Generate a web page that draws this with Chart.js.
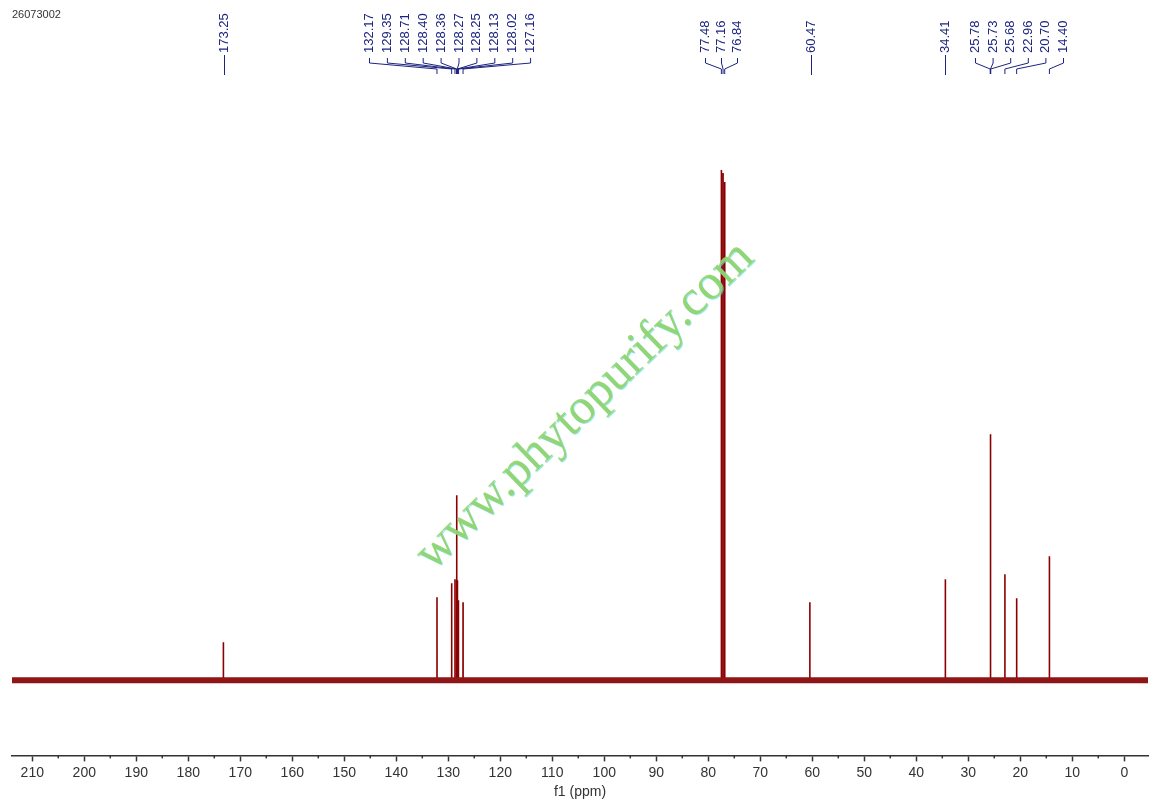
<!DOCTYPE html>
<html>
<head>
<meta charset="utf-8">
<script src="https://cdn.jsdelivr.net/npm/chart.js@4.4.0/dist/chart.umd.min.js"></script>
<style>
  html, body { margin: 0; padding: 0; background: #fff; }
</style>
</head>
<body>
<canvas id="nmr" width="1160" height="805"></canvas>
<script>
// spectrum data (13C, ppm and relative intensity)
const sampleId = '26073002';
const peakPpm = [173.25, 132.17, 129.35, 128.71, 128.40, 128.36, 128.27, 128.25, 128.13, 128.02, 127.16,
                 77.48, 77.16, 76.84, 60.47, 34.41, 25.78, 25.73, 25.68, 22.96, 20.70, 14.40];
const peakHeight = [38, 83, 97, 101, 90, 185, 100, 95, 80, 70, 78,
                    510, 507, 498, 78, 101, 246, 246, 240, 106, 82, 124];
const labelGroups = [
    [173.25],
    [132.17, 129.35, 128.71, 128.40, 128.36, 128.27, 128.25, 128.13, 128.02, 127.16],
    [77.48, 77.16, 76.84],
    [60.47],
    [34.41],
    [25.78, 25.73, 25.68, 22.96, 20.70, 14.40]
];
const xTicks = [210, 200, 190, 180, 170, 160, 150, 140, 130, 120, 110, 100, 90, 80, 70, 60, 50, 40, 30, 20, 10, 0];
const xMin = -4.56, xMax = 213.9;

// label column layout: [first label x, step]
const labelLayout = [[224, 0], [369, 17.9], [705, 16], [811, 0], [945, 0], [975, 17.6]];

const spectrum = [{ x: xMax, y: 0 }];
peakPpm.forEach(function(p, i) {
    spectrum.push({ x: p + 0.01, y: 0 });
    spectrum.push({ x: p, y: peakHeight[i] });
    spectrum.push({ x: p - 0.01, y: 0 });
});
spectrum.push({ x: xMin, y: 0 });

const peakLabels = {
    id: 'peakLabels',
    afterDraw(chart) {
        const ctx = chart.ctx;
        const xs = chart.scales.x;
        ctx.save();
        ctx.strokeStyle = '#1c2480';
        ctx.fillStyle = '#1c2480';
        ctx.lineWidth = 1;
        ctx.font = '13px "Liberation Sans", Arial, sans-serif';
        labelGroups.forEach(function(group, g) {
            const start = labelLayout[g][0], step = labelLayout[g][1];
            group.forEach(function(ppm, j) {
                const lx = start + j * step;
                const px = xs.getPixelForValue(ppm);
                ctx.save();
                ctx.translate(lx + 0.5, 53);
                ctx.rotate(-Math.PI / 2);
                ctx.textAlign = 'left';
                ctx.textBaseline = 'middle';
                ctx.fillText(ppm.toFixed(2), 0, 0);
                ctx.restore();
                ctx.beginPath();
                if (group.length === 1) {
                    ctx.moveTo(lx + 0.5, 55);
                    ctx.lineTo(lx + 0.5, 75);
                } else {
                    ctx.moveTo(lx + 0.5, 58);
                    ctx.lineTo(lx + 0.5, 63);
                    ctx.lineTo(px, 69);
                    ctx.lineTo(px, 74);
                }
                ctx.stroke();
            });
        });
        // sample id
        ctx.fillStyle = '#333';
        ctx.font = '11px "Liberation Sans", Arial, sans-serif';
        ctx.textAlign = 'left';
        ctx.textBaseline = 'top';
        ctx.fillText(sampleId, 12, 9);
        // minor ticks
        const y0 = chart.chartArea.bottom;
        ctx.strokeStyle = '#333';
        ctx.lineWidth = 1.5;
        for (let v = 5; v < 215; v += 10) {
            const x = xs.getPixelForValue(v);
            ctx.beginPath();
            ctx.moveTo(x, y0);
            ctx.lineTo(x, y0 + 3);
            ctx.stroke();
        }
        // watermark
        ctx.translate(585, 406);
        ctx.rotate(-44 * Math.PI / 180);
        ctx.font = '50px "Liberation Serif", "Times New Roman", serif';
        ctx.textAlign = 'center';
        ctx.textBaseline = 'middle';
        ctx.shadowColor = 'rgba(90, 220, 230, 0.7)';
        ctx.shadowOffsetX = 1;
        ctx.shadowOffsetY = 1;
        ctx.fillStyle = 'rgba(145, 212, 105, 0.9)';
        ctx.fillText('www.phytopurify.com', 0, 0);
        ctx.restore();
    }
};

new Chart(document.getElementById('nmr'), {
    type: 'line',
    data: {
        datasets: [
            {
                data: [{ x: xMax, y: 0 }, { x: xMin, y: 0 }],
                borderColor: '#8e1616',
                borderWidth: 6,
                pointRadius: 0
            },
            {
                data: spectrum,
                borderColor: '#8b0000',
                borderWidth: 1.6,
                pointRadius: 0,
                tension: 0
            }
        ]
    },
    options: {
        responsive: false,
        animation: false,
        devicePixelRatio: 1,
        layout: { padding: { top: 100, left: 12, right: 12, bottom: 2 } },
        plugins: {
            legend: { display: false },
            tooltip: { enabled: false }
        },
        scales: {
            x: {
                type: 'linear',
                reverse: true,
                min: xMin,
                max: xMax,
                afterBuildTicks: function(s) {
                    s.ticks = xTicks.map(function(v) { return { value: v }; });
                },
                ticks: {
                    autoSkip: false,
                    maxRotation: 0,
                    padding: 3,
                    color: '#333',
                    font: { family: '"Liberation Sans", Arial, sans-serif', size: 14 },
                    callback: function(v) { return String(v); }
                },
                grid: {
                    drawOnChartArea: false,
                    tickLength: 6,
                    tickColor: '#333',
                    tickWidth: 1.5
                },
                border: { display: true, color: '#333', width: 1.5 },
                title: {
                    display: true,
                    text: 'f1 (ppm)',
                    color: '#333',
                    font: { family: '"Liberation Sans", Arial, sans-serif', size: 14 },
                    padding: { top: 0, bottom: 2 }
                }
            },
            y: {
                display: false,
                min: -75,
                max: 580
            }
        }
    },
    plugins: [peakLabels]
});
</script>
</body>
</html>
